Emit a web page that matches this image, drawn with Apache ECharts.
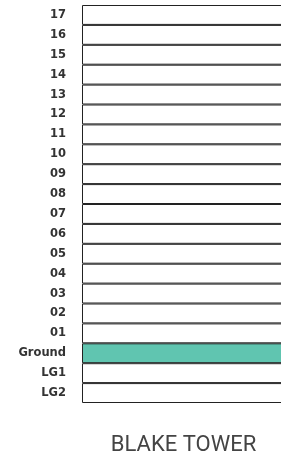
<!DOCTYPE html>
<html>
<head>
<meta charset="utf-8">
<script src="https://cdn.jsdelivr.net/npm/echarts@6/dist/echarts.min.js"></script>
<style>
  html, body { margin: 0; padding: 0; background: #fff; overflow: hidden; }
  /* wider than the window so the blocks run off the right edge */
  #chart { width: 300px; height: 462px; }
</style>
</head>
<body>
<div id="chart"></div>
<script>
// floors, listed top to bottom
const floors = ['17', '16', '15', '14', '13', '12', '11', '10', '09', '08', '07',
  '06', '05', '04', '03', '02', '01', 'Ground', 'LG1', 'LG2'];
// every floor is drawn as one full-width block
const blockValues = [1, 1, 1, 1, 1, 1, 1, 1, 1, 1, 1, 1, 1, 1, 1, 1, 1, 1, 1, 1];
// highlighted floor(s)
const highlighted = ['Ground'];
const buildingName = 'BLAKE TOWER';

const chart = echarts.init(document.getElementById('chart'));

const seriesData = floors.map(function (f, i) {
  return {
    value: blockValues[i],
    itemStyle: {
      color: highlighted.indexOf(f) >= 0 ? '#60c5b0' : '#ffffff',
    },
  };
});

chart.setOption({
  animation: false,
  title: {
    text: buildingName,
    left: 183.5,
    textAlign: 'center',
    top: 434,
    padding: 0,
    textStyle: {
      fontFamily: 'Roboto',
      fontWeight: 'normal',
      fontSize: 22,
      color: '#444',
    },
  },
  grid: { left: 82, right: 0, top: 5, bottom: 59 },
  xAxis: {
    type: 'value',
    min: 0,
    max: 1,
    show: false,
  },
  yAxis: {
    type: 'category',
    data: floors,
    inverse: true,
    axisLine: { show: false },
    axisTick: { show: false },
    splitLine: { show: false },
    axisLabel: {
      margin: 16,
      fontFamily: 'DejaVu Sans',
      fontWeight: 'bold',
      fontSize: 11.5,
      color: '#333',
    },
  },
  series: [{
    type: 'bar',
    data: seriesData,
    barWidth: '100%',
    itemStyle: {
      borderColor: '#222',
      borderWidth: 1,
    },
  }],
});
</script>
</body>
</html>
